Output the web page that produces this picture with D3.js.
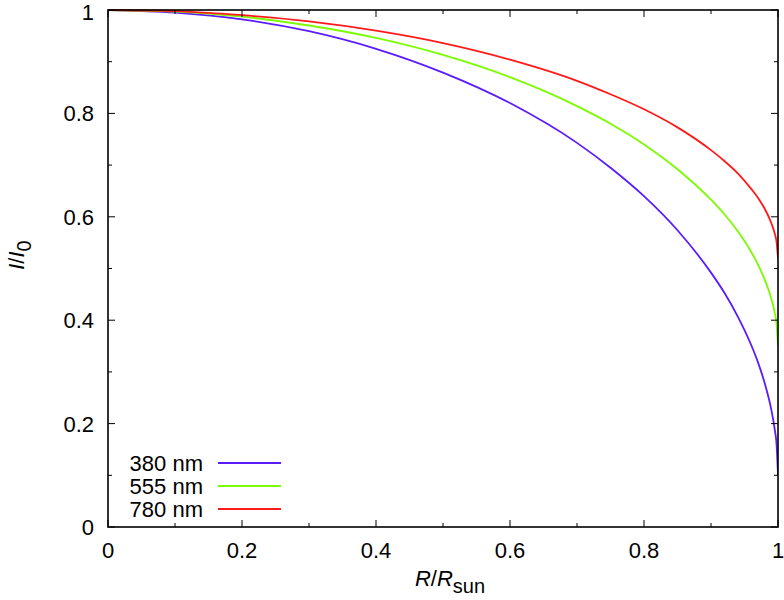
<!DOCTYPE html>
<html>
<head>
<meta charset="utf-8">
<script src="https://cdn.jsdelivr.net/npm/d3@7"></script>
<style>
  html, body { margin: 0; padding: 0; background: #fff; }
  svg { display: block; }
  text { font-family: "Liberation Sans", Arial, Helvetica, sans-serif; fill: #000; }
</style>
</head>
<body>
<svg id="chart" width="784" height="600"></svg>
<script>
// Radius samples (R/Rsun)
const radius = [0, 0.1, 0.2, 0.3, 0.4, 0.5, 0.6, 0.7, 0.75, 0.8, 0.85, 0.9, 0.92, 0.94, 0.96, 0.97, 0.98, 0.99, 0.995, 0.998, 1.0];
// Intensity I/I0
const i380 = [1.000, 0.995, 0.982, 0.959, 0.925, 0.879, 0.820, 0.743, 0.695, 0.640, 0.574, 0.492, 0.453, 0.407, 0.352, 0.319, 0.279, 0.227, 0.190, 0.157, 0.100];
const i555 = [1.000, 0.997, 0.987, 0.970, 0.946, 0.913, 0.870, 0.814, 0.780, 0.740, 0.692, 0.633, 0.605, 0.572, 0.532, 0.508, 0.479, 0.442, 0.415, 0.391, 0.350];
const i780 = [1.000, 0.998, 0.990, 0.978, 0.960, 0.936, 0.904, 0.863, 0.837, 0.808, 0.773, 0.729, 0.708, 0.684, 0.654, 0.637, 0.616, 0.588, 0.568, 0.550, 0.520];

const seriesNames = ["380 nm", "555 nm", "780 nm"];
const seriesColors = ["#5a1cff", "#7cfc00", "#ff1a1a"];
const seriesValues = [i380, i555, i780];

const xTickLabels = [0, 0.2, 0.4, 0.6, 0.8, 1];
const yTickLabels = [0, 0.2, 0.4, 0.6, 0.8, 1];
const minorTicks = [0.1, 0.3, 0.5, 0.7, 0.9];

const svg = d3.select("#chart");
const L = 108, R = 778, T = 10, B = 527;
const FS = 22;

const x = d3.scaleLinear().domain([0, 1]).range([L, R]);
const y = d3.scaleLinear().domain([0, 1]).range([B, T]);

const fmt = d => (d === 0 ? "0" : d === 1 ? "1" : d3.format(".1f")(d));

// curves
const line = d3.line()
  .x((d, i) => x(radius[i]))
  .y(d => y(d))
  .curve(d3.curveMonotoneX);

const plot = svg.append("g");
plot.append("clipPath").attr("id", "clip").append("rect")
  .attr("x", L).attr("y", T - 2).attr("width", R - L).attr("height", B - T + 2);

seriesValues.forEach((vals, k) => {
  plot.append("path")
    .attr("d", line(vals))
    .attr("fill", "none")
    .attr("stroke", seriesColors[k])
    .attr("stroke-width", 1.8)
    .attr("clip-path", "url(#clip)");
});

// ticks (inside, mirrored)
const tickG = svg.append("g").attr("stroke", "#000").attr("stroke-width", 1);
xTickLabels.forEach(v => {
  tickG.append("line").attr("x1", x(v)).attr("x2", x(v)).attr("y1", B).attr("y2", B - 7);
  tickG.append("line").attr("x1", x(v)).attr("x2", x(v)).attr("y1", T).attr("y2", T + 7);
});
minorTicks.forEach(v => {
  tickG.append("line").attr("x1", x(v)).attr("x2", x(v)).attr("y1", B).attr("y2", B - 4);
  tickG.append("line").attr("x1", x(v)).attr("x2", x(v)).attr("y1", T).attr("y2", T + 4);
});
yTickLabels.forEach(v => {
  tickG.append("line").attr("y1", y(v)).attr("y2", y(v)).attr("x1", L).attr("x2", L + 7);
  tickG.append("line").attr("y1", y(v)).attr("y2", y(v)).attr("x1", R).attr("x2", R - 7);
});
minorTicks.forEach(v => {
  tickG.append("line").attr("y1", y(v)).attr("y2", y(v)).attr("x1", L).attr("x2", L + 4);
  tickG.append("line").attr("y1", y(v)).attr("y2", y(v)).attr("x1", R).attr("x2", R - 4);
});

// frame
svg.append("rect").attr("x", L).attr("y", T).attr("width", R - L).attr("height", B - T)
  .attr("fill", "none").attr("stroke", "#000").attr("stroke-width", 1.6);

// tick labels
svg.append("g").selectAll("text").data(xTickLabels).join("text")
  .attr("x", d => x(d)).attr("y", 558)
  .attr("text-anchor", "middle").attr("font-size", FS)
  .text(fmt);
svg.append("g").selectAll("text").data(yTickLabels).join("text")
  .attr("x", 94).attr("y", d => Math.max(y(d) + 8, 20))
  .attr("text-anchor", "end").attr("font-size", FS)
  .text(fmt);

// axis titles
const xt = svg.append("text").attr("x", 450).attr("y", 586)
  .attr("text-anchor", "middle").attr("font-size", FS);
xt.append("tspan").attr("font-style", "italic").text("R");
xt.append("tspan").text("/");
xt.append("tspan").attr("font-style", "italic").text("R");
xt.append("tspan").attr("dy", 7).attr("font-size", 20).text("sun");

const yt = svg.append("text").attr("transform", "translate(24,255) rotate(-90)")
  .attr("text-anchor", "middle").attr("font-size", FS);
yt.append("tspan").attr("font-style", "italic").text("I");
yt.append("tspan").text("/");
yt.append("tspan").attr("font-style", "italic").text("I");
yt.append("tspan").attr("dy", 7).attr("font-size", 20).text("0");

// legend
const legRows = [463, 486, 509];
seriesNames.forEach((name, k) => {
  svg.append("text").attr("x", 203).attr("y", legRows[k] + 8)
    .attr("text-anchor", "end").attr("font-size", FS).text(name);
  svg.append("line").attr("x1", 218).attr("x2", 281)
    .attr("y1", legRows[k]).attr("y2", legRows[k])
    .attr("stroke", seriesColors[k]).attr("stroke-width", 1.8);
});
</script>
</body>
</html>
